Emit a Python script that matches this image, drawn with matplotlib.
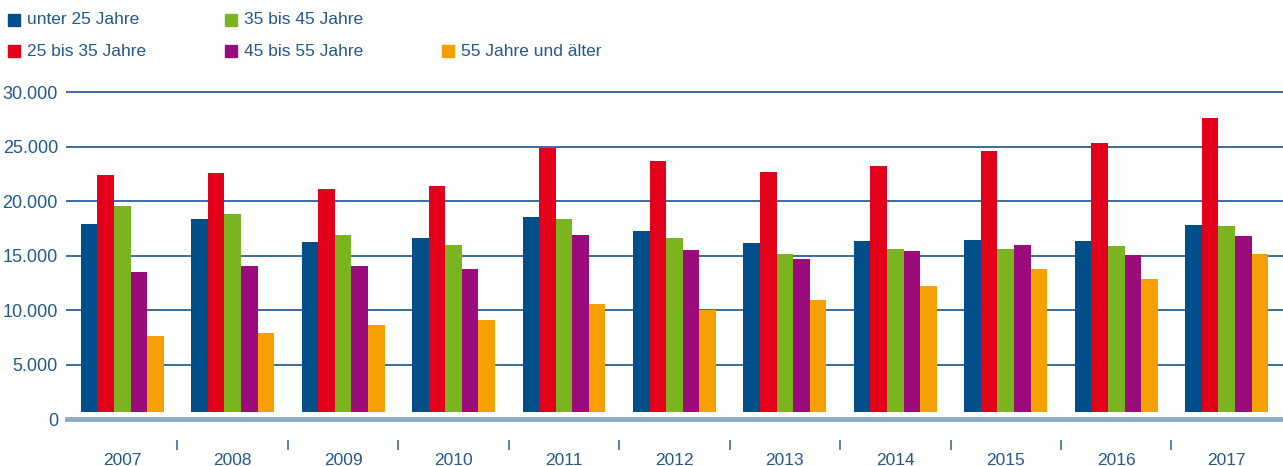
"""Grouped bar chart: counts by age group per year, 2007-2017."""

from matplotlib import pyplot as plt
from matplotlib.patches import Rectangle
from matplotlib.ticker import FixedLocator, FuncFormatter
import numpy as np

YEARS = ["2007", "2008", "2009", "2010", "2011", "2012",
         "2013", "2014", "2015", "2016", "2017"]

UNDER_25 = [17900, 18370, 16260, 16590, 18600, 17230, 16130, 16320, 16410, 16320, 17870]
AGE_25_35 = [22400, 22590, 21120, 21440, 24860, 23730, 22720, 23270, 24640, 25380, 27660]
AGE_35_45 = [19560, 18830, 16900, 15950, 18420, 16590, 15130, 15590, 15590, 15860, 17690]
AGE_45_55 = [13500, 14060, 14060, 13760, 16870, 15490, 14670, 15400, 15950, 15040, 16780]
OVER_55 = [7640, 7930, 8650, 9090, 10550, 10000, 10920, 12200, 13760, 12840, 15130]

SERIES = [
    ("unter 25 Jahre", UNDER_25, "#004f8a"),
    ("25 bis 35 Jahre", AGE_25_35, "#e2001a"),
    ("35 bis 45 Jahre", AGE_35_45, "#7ab51f"),
    ("45 bis 55 Jahre", AGE_45_55, "#9c0b7b"),
    ("55 Jahre und älter", OVER_55, "#f4a000"),
]
# legend slot (column, row) for every series
LEGEND_SLOTS = [(0, 0), (0, 1), (1, 0), (1, 1), (2, 1)]

TEXT_COLOR = "#22598f"
GRID_COLOR = "#3b6d9e"
ZERO_COLOR = "#8fa9c7"
BAR_WIDTH = 0.15
BAR_BASE = 670  # bars in the original start a little above the zero line
FONT = ["Liberation Sans", "DejaVu Sans"]

W, H = 1283, 466
plt.rcParams["font.family"] = FONT

fig = plt.figure(figsize=(W / 100, H / 100), dpi=100)
ax = fig.add_axes([67 / W, 1 - 419.3 / H, 1 - 67 / W, (419.3 - 92.3) / H])

x = np.arange(len(YEARS))
for i, (label, values, color) in enumerate(SERIES):
    vals = np.array(values, dtype=float)
    ax.bar(x + (i - 2) * BAR_WIDTH, vals - BAR_BASE, BAR_WIDTH,
           bottom=BAR_BASE, color=color, label=label, zorder=3)

ax.set_xlim(-0.5, len(YEARS) - 0.5 + 0.01)
ax.set_ylim(0, 30000)

for y in range(5000, 30001, 5000):
    ax.axhline(y, color=GRID_COLOR, lw=1.4, zorder=1, clip_on=False)
ax.axhline(0, color=ZERO_COLOR, lw=3.5, zorder=2, clip_on=False)

for side in ["top", "right", "left"]:
    ax.spines[side].set_visible(False)
ax.spines["bottom"].set_position(("outward", 15))
ax.spines["bottom"].set_visible(False)

ax.yaxis.set_major_locator(FixedLocator(range(0, 30001, 5000)))
ax.yaxis.set_major_formatter(
    FuncFormatter(lambda v, _: f"{v:,.0f}".replace(",", ".")))
ax.tick_params(axis="y", length=0, pad=6.5, labelsize=13, labelcolor=TEXT_COLOR)

ax.set_xticks(x)
ax.set_xticklabels(YEARS)
ax.set_xticks(x[:-1] + 0.5, minor=True)
ax.tick_params(axis="x", which="major", length=0, pad=9,
               labelsize=12.5, labelcolor=TEXT_COLOR)
ax.tick_params(axis="x", which="minor", length=7.5, width=1.2,
               color=GRID_COLOR, direction="out")

# legend: squares and labels in two rows above the plot
col_x = [8, 225, 442]
row_y = [20, 51]
for (label, _, color), (c, r) in zip(SERIES, LEGEND_SLOTS):
    fig.patches.append(Rectangle(((col_x[c]) / W, 1 - (row_y[r] + 6) / H),
                                 12 / W, 12 / H, transform=fig.transFigure,
                                 color=color))
    fig.text((col_x[c] + 19) / W, 1 - row_y[r] / H, label, ha="left",
             va="center", fontsize=12.5, color=TEXT_COLOR)

fig.savefig("out.png", dpi=100)
